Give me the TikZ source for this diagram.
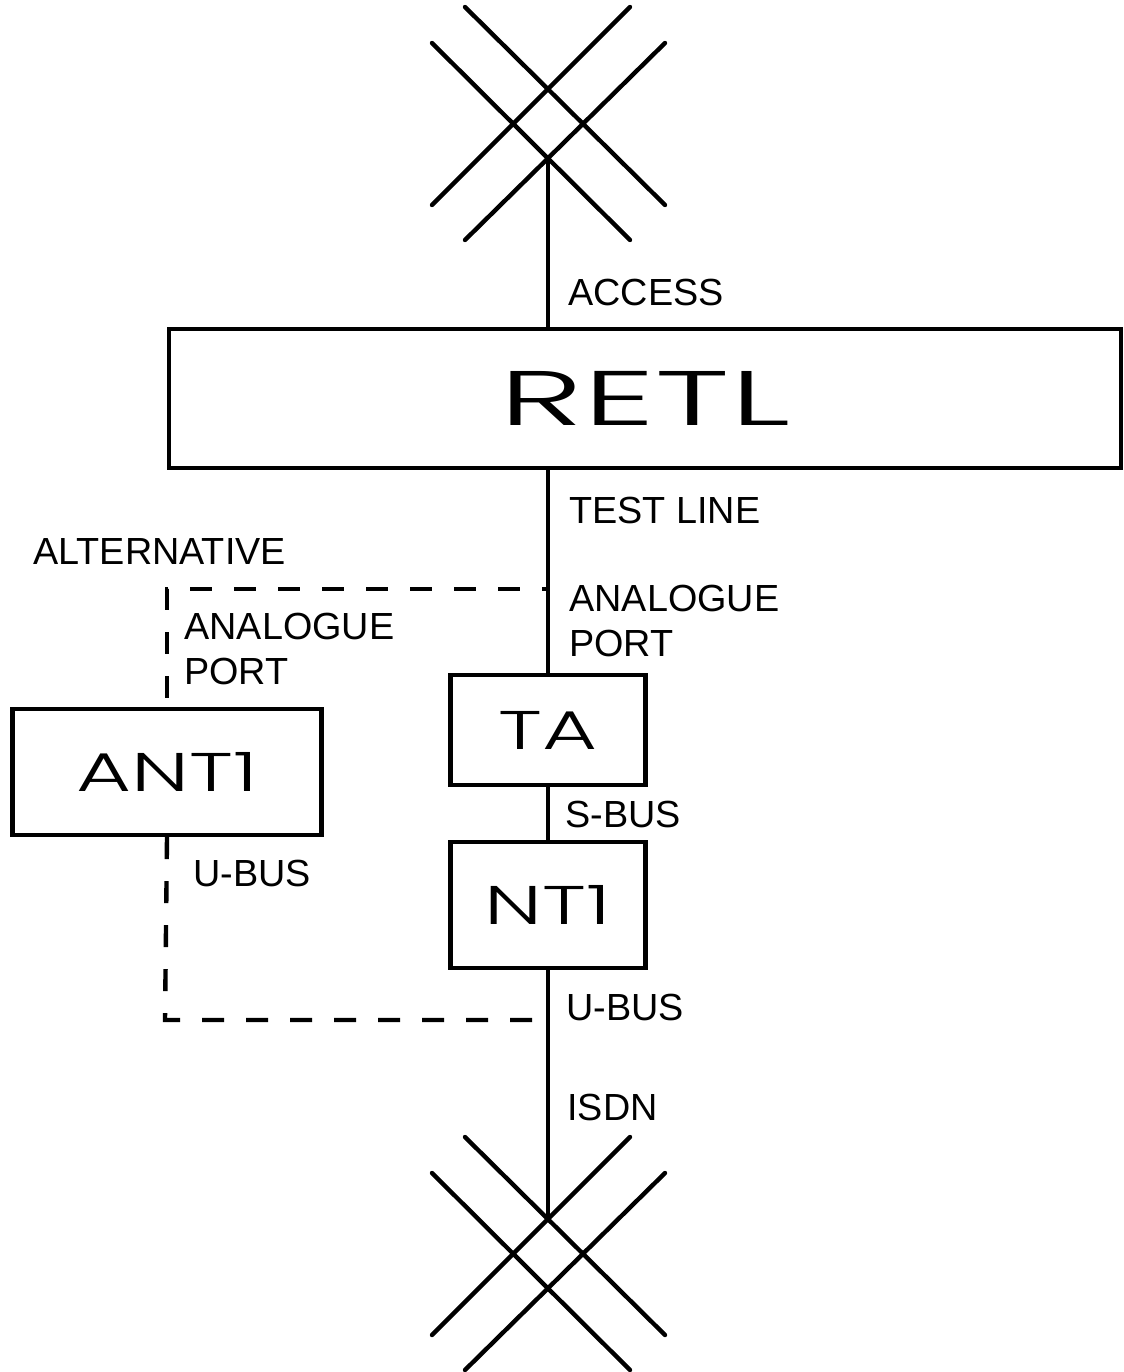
\documentclass[tikz,border=0pt]{standalone}
\usepackage{fontspec}
\setmainfont{Liberation Sans}
\newfontfamily\boxfont{Poppins Light}[FakeStretch=1.55]
\newfontfamily\bigboxfont{Poppins Light}[FakeStretch=1.85]
\usetikzlibrary{positioning}

\tikzset{
  unit/.style={draw, line width=2.5pt, inner sep=0pt, font=\boxfont\fontsize{31}{31}\selectfont},
  lbl/.style={anchor=base west, inner sep=0pt, font=\fontsize{21.5}{25.5}\selectfont},
  link/.style={line width=2.5pt},
  alt/.style={line width=2.5pt, dash pattern=on 0.44cm off 0.44cm}
}

\begin{document}
\begin{tikzpicture}[x=0.02cm, y=-0.02cm]
\useasboundingbox (0,0) rectangle (1124,1372);

% aerials, top and bottom
\foreach \cy in {123,1253} {
  \draw[link, line cap=round] (465,{\cy-116}) -- (665,{\cy+82});
  \draw[link, line cap=round] (432,{\cy-80}) -- (630,{\cy+117});
  \draw[link, line cap=round] (630,{\cy-116}) -- (432,{\cy+82});
  \draw[link, line cap=round] (665,{\cy-80}) -- (465,{\cy+117});
}
\coordinate (upper) at (548,158);
\coordinate (lower) at (548,1218);

% units
\node[unit, minimum width=19.04cm, minimum height=2.78cm, font=\bigboxfont\fontsize{44}{44}\selectfont] (RETL) at (645,398.5) {RETL};
\node[unit, minimum width=3.9cm, minimum height=2.2cm] (TA) at (548,730) {TA};
\node[unit, minimum width=3.9cm, minimum height=2.52cm] (NT1) at (548,905) {NT1};
\node[unit, minimum width=6.18cm, minimum height=2.52cm] (ANT1) at (167,772) {ANT1};

% main line
\draw[link] (upper) -- (upper |- RETL.north);
\draw[link] (TA.north |- RETL.south) -- (TA.north);
\draw[link] (TA) -- (NT1);
\draw[link] (NT1) -- (lower);

% alternative route
\coordinate (tapA) at (548,589);
\coordinate (tapB) at (548,1020);
\coordinate (bend) at (165,1020);
\draw[alt, dash phase=0.7cm] (ANT1.north) -- (ANT1.north |- tapA) -- (tapA);
\draw[alt] (ANT1.south) -- (bend) -- (tapB);

% labels
\node[lbl] (access) at (568,305) {ACCESS};
\node[lbl] (testline) at (569,523) {TEST LINE};
\node[lbl] (alternative) at (33,564) {ALTERNATIVE};
\node[lbl, anchor=north west, align=left] (portA) at (569,585) {ANALOGUE\\PORT};
\node[lbl, anchor=north west, align=left] (portB) at (184,613) {ANALOGUE\\PORT};
\node[lbl] (sbus) at (565,827) {S-BUS};
\node[lbl] (ubusA) at (193,886) {U-BUS};
\node[lbl] (ubusB) at (566,1020) {U-BUS};
\node[lbl] (isdn) at (567,1120) {ISDN};
\end{tikzpicture}
\end{document}
